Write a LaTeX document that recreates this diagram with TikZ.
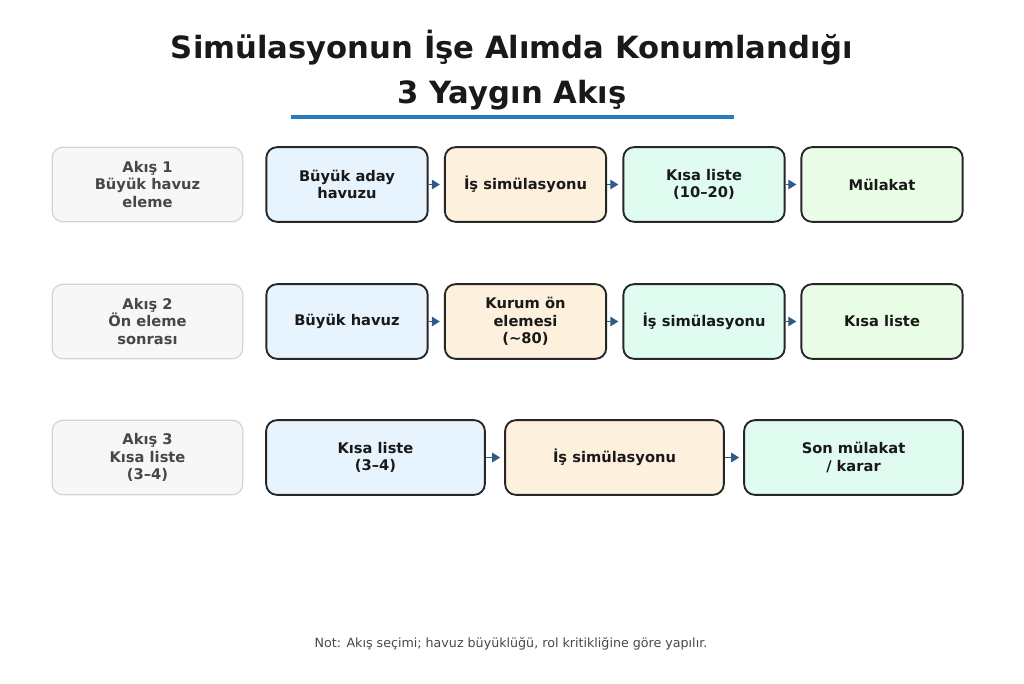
\documentclass[tikz,border=0pt]{standalone}
\usepackage{fontspec}
\setmainfont{DejaVu Sans}
\usetikzlibrary{arrows.meta}
\definecolor{bA}{HTML}{E8F4FD}
\definecolor{bB}{HTML}{FDF0DC}
\definecolor{bC}{HTML}{E0FBF0}
\definecolor{bD}{HTML}{EAFDE6}
\definecolor{arr}{HTML}{2E5A87}
\tikzset{
 box/.style={draw=black!85,line width=1.4pt,rounded corners=8pt,minimum height=56pt,align=center,font=\bfseries\fontsize{11}{13}\selectfont,text=black!90,inner sep=2pt},
 lab/.style={draw=black!17,fill=black!3,line width=0.9pt,rounded corners=8pt,minimum width=143pt,minimum height=56pt,align=center,font=\bfseries\fontsize{11}{13}\selectfont,text=black!72},
 con/.style={draw=arr,line width=1.3pt,-{Triangle[length=6pt,width=7pt]},shorten >=3pt}
}
\begin{document}
\begin{tikzpicture}[x=0.75pt,y=-0.75pt]
\useasboundingbox (0,0) rectangle (1024,683);
\node[font=\bfseries\fontsize{23}{34}\selectfont,align=center,text=black!90] (t) at (512,70) {Simülasyonun İşe Alımda Konumlandığı\\3 Yaygın Akış};
\draw[color={rgb,255:red,42;green,122;blue,191},line width=3pt] (291,117) -- (734,117);
% row1
\node[lab] (l1) at (147.5,184.5) {Akış 1\\Büyük havuz\\eleme};
\node[box,fill=bA,minimum width=121pt] (a1) at (347,184.5) {Büyük aday\\havuzu};
\node[box,fill=bB,minimum width=121pt] (a2) at (525.5,184.5) {İş simülasyonu};
\node[box,fill=bC,minimum width=121pt] (a3) at (704,184.5) {Kısa liste\\(10–20)};
\node[box,fill=bD,minimum width=121pt] (a4) at (882,184.5) {Mülakat};
\draw[con] (a1) -- (a2); \draw[con] (a2) -- (a3); \draw[con] (a3) -- (a4);
% row2
\node[lab] (l2) at (147.5,321.5) {Akış 2\\Ön eleme\\sonrası};
\node[box,fill=bA,minimum width=121pt] (b1) at (347,321.5) {Büyük havuz};
\node[box,fill=bB,minimum width=121pt] (b2) at (525.5,321.5) {Kurum ön\\elemesi\\(\textasciitilde80)};
\node[box,fill=bC,minimum width=121pt] (b3) at (704,321.5) {İş simülasyonu};
\node[box,fill=bD,minimum width=121pt] (b4) at (882,321.5) {Kısa liste};
\draw[con] (b1) -- (b2); \draw[con] (b2) -- (b3); \draw[con] (b3) -- (b4);
% row3
\node[lab] (l3) at (147.5,457.5) {Akış 3\\Kısa liste\\(3–4)};
\node[box,fill=bA,minimum width=164pt] (c1) at (375.5,457.5) {Kısa liste\\(3–4)};
\node[box,fill=bB,minimum width=164pt] (c2) at (614.5,457.5) {İş simülasyonu};
\node[box,fill=bC,minimum width=164pt] (c3) at (853.5,457.5) {Son mülakat\\/ karar};
\draw[con] (c1) -- (c2); \draw[con] (c2) -- (c3);
\node[font=\fontsize{9.5}{11}\selectfont,text=black!72] (n) at (511,644) {Not: Akış seçimi; havuz büyüklüğü, rol kritikliğine göre yapılır.};
\end{tikzpicture}
\end{document}
